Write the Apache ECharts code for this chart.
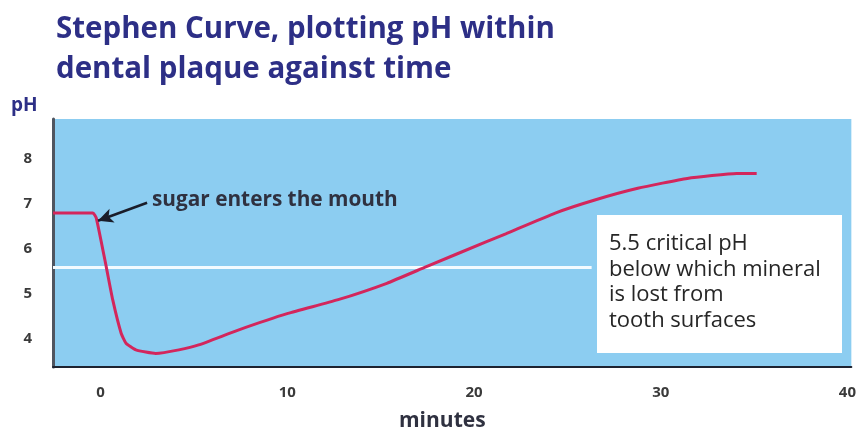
<!DOCTYPE html>
<html>
<head>
<meta charset="utf-8">
<script src="https://cdn.jsdelivr.net/npm/echarts@6/dist/echarts.min.js"></script>
<style>html,body{margin:0;padding:0;background:#fff}#c{width:859px;height:431px}</style>
</head>
<body>
<div id="c"></div>
<script>
// Data
const minutes = [-2.55, -0.41, -0.23, 0.30, 0.65, 1.10, 1.36, 1.89, 2.95, 4.19, 5.25, 7.37, 10.03, 12.68, 15.33, 17.45, 20.64, 21.70, 24.35, 26.47, 28.77, 31.42, 34.07, 35.14];
const phValues = [6.80, 6.80, 6.69, 5.61, 4.87, 4.13, 3.91, 3.76, 3.68, 3.76, 3.87, 4.20, 4.57, 4.87, 5.24, 5.61, 6.16, 6.34, 6.80, 7.09, 7.35, 7.57, 7.68, 7.68];
const xTickLabels = [0, 10, 20, 30, 40];
const yTickLabels = [4, 5, 6, 7, 8];
const criticalPH = 5.6;          // white line as drawn
const criticalLineEnd = 26.3;     // minutes where the line meets the note box
const arrowFrom = [2.49, 7.03];
const arrowTo = [-0.14, 6.63];
const titleText = 'Stephen Curve, plotting pH within\ndental plaque against time';
const noteText = '5.5 critical pH\nbelow which mineral\nis lost from\ntooth surfaces';
const arrowText = 'sugar enters the mouth';

const xMin = -2.55, xMax = 40.21, yMin = 3.38, yMax = 8.89;

const chart = echarts.init(document.getElementById('c'), null, {renderer: 'canvas'});
chart.setOption({
  animation: false,
  title: {
    text: titleText,
    left: 51, top: 5,
    textStyle: {fontFamily: 'Open Sans', fontWeight: 'bold', fontSize: 29.5, lineHeight: 40, color: '#2d2f86'}
  },
  grid: {left: 53, right: 0, top: 119, bottom: 64, show: true, backgroundColor: '#8ccdf1', borderWidth: 0},
  xAxis: {
    type: 'value', min: xMin, max: xMax,
    axisLine: {show: true, onZero: false, lineStyle: {color: '#1e2330', width: 2}},
    axisTick: {show: false},
    splitLine: {show: false},
    axisLabel: {customValues: xTickLabels, margin: 18, color: '#3a3a3a', fontFamily: 'Open Sans', fontWeight: 'bold', fontSize: 15}
  },
  yAxis: {
    type: 'value', min: yMin, max: yMax,
    axisLine: {show: true, onZero: false, lineStyle: {color: '#4f5560', width: 3}},
    axisTick: {show: false},
    splitLine: {show: false},
    axisLabel: {customValues: yTickLabels, margin: 21, color: '#3a3a3a', fontFamily: 'Open Sans', fontWeight: 'bold', fontSize: 15}
  },
  series: [
    {
      type: 'line',
      data: minutes.map((m, i) => [m, phValues[i]]),
      smooth: 0.15,
      showSymbol: false,
      lineStyle: {color: '#d3265c', width: 3},
      z: 3,
      markLine: {
        silent: true,
        symbol: ['none', 'none'],
        label: {show: false},
        data: [
          [{coord: [xMin, criticalPH], lineStyle: {color: '#f4fbff', width: 3, type: 'solid'}}, {coord: [criticalLineEnd, criticalPH]}],
        ],
        z: 2
      }
    },
    {
      type: 'line',
      data: [],
      markLine: {
        silent: true,
        symbol: ['none', 'arrow'],
        symbolSize: [11, 15],
        label: {show: false},
        lineStyle: {color: '#1a1d2a', width: 2.5, type: 'solid'},
        data: [[{coord: arrowFrom}, {coord: arrowTo}]]
      }
    }
  ],
  graphic: [
    {type: 'text', left: 11, top: 96, style: {text: 'pH', fill: '#2d2f86', font: 'bold 19px "Open Sans"'}},
    {type: 'text', left: 152, top: 190, style: {text: arrowText, fill: '#2f3140', font: 'bold 20.8px "Open Sans"'}},
    {type: 'text', left: 399, top: 411, style: {text: 'minutes', fill: '#2f3140', font: 'bold 21px "Open Sans"'}},
    {type: 'rect', shape: {x: 597, y: 215, width: 245, height: 138}, style: {fill: '#ffffff'}, z: 10},
    {type: 'text', left: 609, top: 231, z: 11, style: {text: noteText, fill: '#262626', font: '22px "Open Sans"', lineHeight: 25.5}}
  ]
});
</script>
</body>
</html>
